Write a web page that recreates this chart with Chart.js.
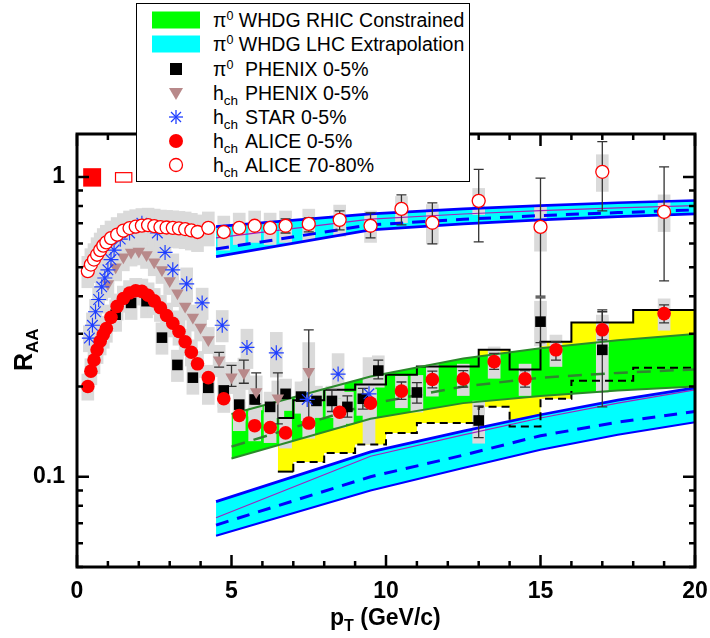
<!DOCTYPE html>
<html>
<head>
<meta charset="utf-8">
<script src="https://cdn.jsdelivr.net/npm/chart.js"></script>
<style>
  body { margin: 0; background: #fff; font-family: "Liberation Sans", Arial, sans-serif; }
  #wrap { position: relative; width: 710px; height: 638px; overflow: hidden; }
  canvas { position: absolute; left: 0; top: 0; }
  #legend { position: absolute; left: 136px; top: 3px; width: 332px; height: 177px; border: 1px solid #000; background: #fff; }
  .row { position: absolute; left: 0; width: 330px; height: 24px; }
  .row svg { position: absolute; left: 15px; top: 0; }
  .txt { position: absolute; left: 76px; top: 0; font-size: 19.5px; line-height: 24px; white-space: nowrap; color: #000; }
  .txt sup { font-size: 12.5px; vertical-align: 7px; line-height: 0; }
  .txt sub { font-size: 13.5px; vertical-align: -5px; line-height: 0; }
  .pre { display: inline-block; width: 32px; }
  #xt { position: absolute; left: 330px; top: 606px; font-weight: bold; font-size: 23px; line-height: 23px; white-space: nowrap; }
  #xt sub { font-size: 16px; vertical-align: -6px; line-height: 0; }
  #yt { position: absolute; left: 11px; top: 371px; font-weight: bold; font-size: 25px; line-height: 25px; white-space: nowrap;
        transform: rotate(-90deg); transform-origin: left top; }
  #yt sub { font-size: 17px; vertical-align: -6px; line-height: 0; }
</style>
</head>
<body>
<div id="wrap">
  <canvas id="c" width="710" height="638"></canvas>
  <div id="legend">
    <div class="row" style="top:4px"><svg width="60" height="24"><rect x="0" y="3.5" width="48" height="17" fill="#00ff00"/></svg>
      <div class="txt">π<sup>0</sup> WHDG RHIC Constrained</div></div>
    <div class="row" style="top:28px"><svg width="60" height="24"><rect x="0" y="3.5" width="48" height="17" fill="#00ffff"/></svg>
      <div class="txt">π<sup>0</sup> WHDG LHC Extrapolation</div></div>
    <div class="row" style="top:53px"><svg width="60" height="24"><rect x="18" y="6" width="12" height="12" fill="#000"/></svg>
      <div class="txt"><span class="pre">π<sup>0</sup></span>PHENIX 0-5%</div></div>
    <div class="row" style="top:77px"><svg width="60" height="24"><polygon points="17,7 31,7 24,19" fill="#b8898a"/></svg>
      <div class="txt"><span class="pre">h<sub>ch</sub></span>PHENIX 0-5%</div></div>
    <div class="row" style="top:101px"><svg width="60" height="24"><g stroke="#1f3fff" stroke-width="1.3">
      <line x1="17" y1="12" x2="31" y2="12"/><line x1="24" y1="5" x2="24" y2="19"/>
      <line x1="19" y1="7" x2="29" y2="17"/><line x1="19" y1="17" x2="29" y2="7"/></g></svg>
      <div class="txt"><span class="pre">h<sub>ch</sub></span>STAR 0-5%</div></div>
    <div class="row" style="top:125px"><svg width="60" height="24"><circle cx="24" cy="12" r="7" fill="#ff0000"/></svg>
      <div class="txt"><span class="pre">h<sub>ch</sub></span>ALICE 0-5%</div></div>
    <div class="row" style="top:149px"><svg width="60" height="24"><circle cx="24" cy="12" r="6.5" fill="#fff" stroke="#ff0000" stroke-width="1.3"/></svg>
      <div class="txt"><span class="pre">h<sub>ch</sub></span>ALICE 70-80%</div></div>
  </div>
  <div id="xt">p<sub>T</sub> (GeV/c)</div>
  <div id="yt">R<sub>AA</sub></div>
</div>
<script>
// axis ticks
const xTicksMajor = [0, 5, 10, 15, 20];
const xTicksMinor = [1, 2, 3, 4, 6, 7, 8, 9, 11, 12, 13, 14, 16, 17, 18, 19];
const yTicksMajor = [0.1, 1];
const yTicksMinor = [0.05, 0.06, 0.07, 0.08, 0.09, 0.2, 0.3, 0.4, 0.5, 0.6, 0.7, 0.8, 0.9];

// WHDG LHC extrapolation (0-5% and 70-80%)
const lhcPt = [4.5, 9.5, 12.5, 15, 17.5, 20];
const lhcCentUp = [0.0826, 0.121, 0.142, 0.161, 0.18, 0.198];
const lhcCentMid = [0.073, 0.117, 0.138, 0.157, 0.176, 0.195];
const lhcCentDash = [0.069, 0.1, 0.118, 0.137, 0.152, 0.165];
const lhcCentLo = [0.0636, 0.09, 0.107, 0.123, 0.138, 0.152];
const lhcPeriUp = [0.683, 0.753, 0.782, 0.802, 0.82, 0.834];
const lhcPeriMid = [0.626, 0.723, 0.752, 0.772, 0.788, 0.802];
const lhcPeriDash = [0.575, 0.692, 0.722, 0.743, 0.76, 0.776];
const lhcPeriLo = [0.542, 0.666, 0.697, 0.719, 0.737, 0.753];

// WHDG RHIC constrained
const rhicPt = [5, 9.5, 12.5, 15, 17.5, 20];
const rhicUp = [0.162, 0.216, 0.248, 0.268, 0.285, 0.299];
const rhicDash = [0.126, 0.175, 0.2, 0.214, 0.222, 0.228];
const rhicLo = [0.115, 0.156, 0.176, 0.186, 0.194, 0.2];

// yellow histogram band (bin edges, per-bin values)
const yellowEdges = [6.5, 7, 8, 9, 10, 11, 13, 14, 15, 16, 18, 20];
const yellowUp = [0.157, 0.18, 0.195, 0.203, 0.219, 0.233, 0.265, 0.228, 0.282, 0.327, 0.36];
const yellowLo = [0.104, 0.112, 0.12, 0.128, 0.14, 0.151, 0.171, 0.147, 0.182, 0.209, 0.231];

// PHENIX pi0 0-5%
const pi0Pt = [1.25, 1.75, 2.25, 2.75, 3.25, 3.75, 4.25, 4.75, 5.25, 5.75, 6.25, 6.75, 7.25, 7.75, 8.25, 8.75, 9.25, 9.75, 11, 13, 15, 17];
const pi0Raa = [0.347, 0.38, 0.385, 0.291, 0.236, 0.214, 0.198, 0.194, 0.174, 0.181, 0.171, 0.189, 0.185, 0.179, 0.179, 0.171, 0.182, 0.226, 0.191, 0.154, 0.329, 0.265];
const pi0Sys = [0.12, 0.12, 0.12, 0.12, 0.12, 0.12, 0.12, 0.12, 0.12, 0.12, 0.12, 0.12, 0.12, 0.12, 0.12, 0.12, 0.12, 0.12, 0.14, 0.16, 0.17, 0.28];
const pi0ErrPt = [8.25, 8.75, 9.25, 9.75, 11, 13, 15, 17];
const pi0ErrLo = [0.165, 0.158, 0.168, 0.212, 0.176, 0.135, 0.28, 0.171];
const pi0ErrHi = [0.195, 0.186, 0.197, 0.245, 0.206, 0.172, 0.395, 0.36];

// PHENIX h_ch 0-5%
const phxPt = [1.0, 1.25, 1.5, 1.75, 2.0, 2.25, 2.5, 2.75, 3.0, 3.25, 3.5, 3.75, 4.0, 4.25, 4.6, 5.0, 5.4, 5.8, 6.5, 7.5];
const phxRaa = [0.44, 0.5, 0.54, 0.56, 0.565, 0.55, 0.52, 0.49, 0.45, 0.41, 0.37, 0.34, 0.315, 0.286, 0.245, 0.215, 0.222, 0.192, 0.183, 0.224];
const phxSys = [0.1, 0.1, 0.1, 0.1, 0.1, 0.1, 0.1, 0.1, 0.1, 0.1, 0.1, 0.1, 0.1, 0.1, 0.12, 0.12, 0.12, 0.13, 0.14, 0.25];
const phxErrPt = [4.6, 5.0, 5.4, 5.8, 6.5, 7.5];
const phxErrLo = [0.232, 0.2, 0.205, 0.175, 0.15, 0.147];
const phxErrHi = [0.26, 0.235, 0.245, 0.222, 0.222, 0.309];

// STAR h_ch 0-5%
const starPt = [0.4, 0.5, 0.6, 0.7, 0.8, 0.9, 1.0, 1.1, 1.2, 1.4, 1.7, 2.1, 2.6, 2.85, 3.1, 3.55, 4.05, 4.7, 5.5, 6.45, 7.45, 8.45, 9.45];
const starRaa = [0.29, 0.32, 0.355, 0.39, 0.43, 0.46, 0.49, 0.53, 0.57, 0.62, 0.65, 0.7, 0.65, 0.56, 0.49, 0.44, 0.38, 0.32, 0.27, 0.259, 0.181, 0.22, 0.189];
const starSys = [0.1, 0.1, 0.1, 0.1, 0.1, 0.1, 0.1, 0.1, 0.1, 0.1, 0.1, 0.1, 0.12, 0.12, 0.13, 0.13, 0.12, 0.12, 0.15, 0.17, 0.15, 0.17, 0.32];

// ALICE h_ch 0-5%
const aliCentPt = [0.35, 0.45, 0.55, 0.65, 0.75, 0.85, 0.95, 1.1, 1.3, 1.5, 1.7, 1.9, 2.1, 2.3, 2.5, 2.7, 2.9, 3.1, 3.3, 3.5, 3.7, 3.9, 4.25, 4.75,
                   5.25, 5.75, 6.25, 6.75, 7.5, 8.5, 9.5, 10.5, 11.5, 12.5, 13.5, 14.5, 15.5, 17, 19];
const aliCentRaa = [0.2, 0.225, 0.245, 0.265, 0.283, 0.298, 0.312, 0.34, 0.37, 0.393, 0.41, 0.417, 0.415, 0.403, 0.386, 0.366, 0.345, 0.325, 0.305, 0.282, 0.26, 0.238, 0.214, 0.182,
                    0.16, 0.148, 0.146, 0.14, 0.151, 0.164, 0.176, 0.193, 0.211, 0.212, 0.242, 0.212, 0.265, 0.309, 0.35];
const aliCentSys = [0.1, 0.1, 0.1, 0.1, 0.1, 0.1, 0.1, 0.1, 0.1, 0.1, 0.1, 0.1, 0.1, 0.1, 0.1, 0.1, 0.1, 0.1, 0.1, 0.1, 0.1, 0.1, 0.1, 0.1,
                    0.11, 0.11, 0.11, 0.11, 0.11, 0.11, 0.11, 0.12, 0.12, 0.12, 0.12, 0.12, 0.12, 0.12, 0.12];
const aliCentErrPt = [10.5, 11.5, 12.5, 13.5, 14.5, 15.5, 17, 19];
const aliCentErrLo = [0.181, 0.198, 0.199, 0.228, 0.199, 0.245, 0.286, 0.326];
const aliCentErrHi = [0.207, 0.225, 0.226, 0.258, 0.226, 0.282, 0.355, 0.374];

// ALICE h_ch 70-80%
const aliPeriPt = [0.35, 0.45, 0.55, 0.65, 0.75, 0.85, 0.95, 1.1, 1.3, 1.5, 1.7, 1.9, 2.1, 2.3, 2.5, 2.7, 2.9, 3.1, 3.3, 3.5, 3.7, 3.9, 4.25, 4.75,
                   5.25, 5.75, 6.25, 6.75, 7.5, 8.5, 9.5, 10.5, 11.5, 13, 15, 17, 19];
const aliPeriRaa = [0.485, 0.51, 0.53, 0.55, 0.57, 0.59, 0.605, 0.625, 0.642, 0.662, 0.675, 0.682, 0.688, 0.69, 0.685, 0.68, 0.678, 0.676, 0.673, 0.67, 0.663, 0.655, 0.676, 0.655,
                    0.676, 0.687, 0.676, 0.687, 0.697, 0.719, 0.687, 0.782, 0.703, 0.832, 0.681, 1.04, 0.764];
const aliPeriSys = [0.12, 0.13, 0.13, 0.14, 0.14, 0.14, 0.14, 0.14, 0.14, 0.14, 0.14, 0.14, 0.14, 0.14, 0.14, 0.14, 0.14, 0.14, 0.14, 0.14, 0.14, 0.14, 0.13, 0.13,
                    0.12, 0.12, 0.12, 0.12, 0.12, 0.12, 0.12, 0.1, 0.15, 0.1, 0.17, 0.14, 0.14];
const aliPeriErrPt = [6.75, 7.5, 8.5, 9.5, 10.5, 11.5, 13, 15, 17, 19];
const aliPeriErrLo = [0.65, 0.656, 0.666, 0.626, 0.692, 0.598, 0.607, 0.4, 0.77, 0.45];
const aliPeriErrHi = [0.724, 0.73, 0.77, 0.758, 0.871, 0.819, 1.06, 0.99, 1.31, 1.08];

// normalisation boxes at R_AA = 1: [pt0, pt1, lo, hi]
const normAlice = [0.2, 0.78, 0.928, 1.069];
const normAliPeri = [1.23, 1.79, 0.957, 1.037];

const pts = (xs, ys) => xs.map((x, i) => ({ x, y: ys[i] }));
// histogram outline: two points per bin
const steps = (edges, vals) => vals.flatMap((v, i) => [{ x: edges[i], y: v }, { x: edges[i + 1], y: v }]);
const NONE = 'rgba(0,0,0,0)';

function bandEdge(data, order, extra) {
  return Object.assign({ type: 'line', data, borderColor: NONE, borderWidth: 0, pointRadius: 0, fill: false, tension: 0, order }, extra);
}
function curve(data, color, width, dash, extra) {
  return Object.assign({ type: 'line', data, borderColor: color, borderWidth: width, borderDash: dash || [], pointRadius: 0, fill: false, tension: 0, order: 40 }, extra);
}
function markers(label, xs, ys, order, style) {
  return Object.assign({ type: 'line', label, data: pts(xs, ys), showLine: false, order, pointHoverRadius: 0 }, style);
}

const sysBoxes = [];
[[pi0Pt, pi0Raa, pi0Sys], [phxPt, phxRaa, phxSys], [starPt, starRaa, starSys],
 [aliCentPt, aliCentRaa, aliCentSys], [aliPeriPt, aliPeriRaa, aliPeriSys]].forEach(([xs, ys, ss]) => {
  xs.forEach((x, i) => sysBoxes.push({ x, y: [ys[i] * (1 - ss[i]), ys[i] * (1 + ss[i])] }));
});

const errSets = [
  [pi0ErrPt, pi0ErrLo, pi0ErrHi], [phxErrPt, phxErrLo, phxErrHi],
  [aliCentErrPt, aliCentErrLo, aliCentErrHi], [aliPeriErrPt, aliPeriErrLo, aliPeriErrHi]
];

const datasets = [
  bandEdge(steps(yellowEdges, yellowLo), 100),
  bandEdge(steps(yellowEdges, yellowUp), 99, { fill: '-1', backgroundColor: '#ffff00' }),
  bandEdge(pts(lhcPt, lhcCentLo), 98),
  bandEdge(pts(lhcPt, lhcCentUp), 97, { fill: '-1', backgroundColor: '#00ffff' }),
  bandEdge(pts(lhcPt, lhcPeriLo), 96),
  bandEdge(pts(lhcPt, lhcPeriUp), 95, { fill: '-1', backgroundColor: '#00ffff' }),
  bandEdge(pts(rhicPt, rhicLo), 94),
  bandEdge(pts(rhicPt, rhicUp), 93, { fill: '-1', backgroundColor: '#00ff00' }),
  { type: 'bar', label: 'sys', data: sysBoxes, backgroundColor: '#dadada', borderWidth: 0, barThickness: 12, order: 50 },
  curve(pts(rhicPt, rhicUp), '#2a8a2a', 2),
  curve(pts(rhicPt, rhicLo), '#2a8a2a', 2),
  curve(pts(rhicPt, rhicDash), '#2f862f', 2.5, [14, 9]),
  curve(steps(yellowEdges, yellowUp), '#000', 2),
  curve(steps(yellowEdges, yellowLo), '#000', 2, [8, 5], {
    segment: { borderDash: (c) => (c.p0DataIndex < 1 ? [] : undefined) }
  }),
  curve(pts(lhcPt, lhcCentUp), '#0000ff', 2.7),
  curve(pts(lhcPt, lhcCentLo), '#0000ff', 2),
  curve(pts(lhcPt, lhcCentDash), '#0000ff', 3, [13, 9]),
  curve(pts(lhcPt, lhcCentMid), '#a020c0', 1.2),
  curve(pts(lhcPt, lhcPeriUp), '#0000ff', 2.7),
  curve(pts(lhcPt, lhcPeriLo), '#0000ff', 2.7),
  curve(pts(lhcPt, lhcPeriDash), '#0000ff', 3, [13, 9]),
  curve(pts(lhcPt, lhcPeriMid), '#a020c0', 1.2),
  markers('pi0', pi0Pt, pi0Raa, 5, { pointStyle: 'rect', pointRadius: 7.5, pointBackgroundColor: '#000', pointBorderColor: '#000', pointBorderWidth: 0 }),
  markers('phx', phxPt, phxRaa, 4, { pointStyle: 'triangle', pointRotation: 180, pointRadius: 7.2, pointBackgroundColor: '#b8898a', pointBorderColor: '#b8898a', pointBorderWidth: 0 }),
  markers('star', starPt, starRaa, 3, { pointStyle: 'star', pointRadius: 7.5, pointBackgroundColor: '#1f3fff', pointBorderColor: '#1f3fff', pointBorderWidth: 1.2 }),
  markers('aliPeri', aliPeriPt, aliPeriRaa, 2, { pointStyle: 'circle', pointRadius: 6.5, pointBackgroundColor: '#fff', pointBorderColor: '#ff0000', pointBorderWidth: 1.3 }),
  markers('aliCent', aliCentPt, aliCentRaa, 1, { pointStyle: 'circle', pointRadius: 6.8, pointBackgroundColor: '#ff0000', pointBorderColor: '#ff0000', pointBorderWidth: 0 })
];

const decor = {
  id: 'decor',
  beforeDatasetDraw(chart, args) {
    if (chart.data.datasets[args.index].label !== 'pi0') return;
    const { ctx, scales: { x, y } } = chart;
    ctx.save();
    ctx.strokeStyle = '#333';
    ctx.lineWidth = 1.3;
    errSets.forEach(([xs, lo, hi]) => {
      xs.forEach((v, i) => {
        const px = x.getPixelForValue(v), p0 = y.getPixelForValue(lo[i]), p1 = y.getPixelForValue(hi[i]);
        ctx.beginPath();
        ctx.moveTo(px, p0); ctx.lineTo(px, p1);
        ctx.moveTo(px - 5, p0); ctx.lineTo(px + 5, p0);
        ctx.moveTo(px - 5, p1); ctx.lineTo(px + 5, p1);
        ctx.stroke();
      });
    });
    ctx.restore();
  },
  afterDatasetsDraw(chart) {
    const { ctx, scales: { x, y } } = chart;
    const box = (b) => {
      const x0 = x.getPixelForValue(b[0]), x1 = x.getPixelForValue(b[1]);
      const y0 = y.getPixelForValue(b[3]), y1 = y.getPixelForValue(b[2]);
      return [x0, y0, x1 - x0, y1 - y0];
    };
    ctx.save();
    ctx.fillStyle = '#ff0000';
    ctx.fillRect(...box(normAlice));
    ctx.strokeStyle = '#ff0000';
    ctx.lineWidth = 1.2;
    const r = box(normAliPeri);
    ctx.strokeRect(r[0] + 0.5, r[1] + 0.5, r[2] - 1, r[3] - 1);
    ctx.restore();
  },
  afterDraw(chart) {
    const { ctx, chartArea: a, scales: { x, y } } = chart;
    ctx.save();
    ctx.strokeStyle = '#000';
    ctx.lineWidth = 2.5;
    ctx.beginPath();
    xTicksMajor.concat(xTicksMinor).forEach((v) => {
      const len = xTicksMajor.includes(v) ? 12 : 6;
      const px = x.getPixelForValue(v);
      ctx.moveTo(px, a.bottom); ctx.lineTo(px, a.bottom - len);
      ctx.moveTo(px, a.top); ctx.lineTo(px, a.top + len);
    });
    yTicksMajor.concat(yTicksMinor).forEach((v) => {
      const len = yTicksMajor.includes(v) ? 12 : 6;
      const py = y.getPixelForValue(v);
      ctx.moveTo(a.left, py); ctx.lineTo(a.left + len, py);
      ctx.moveTo(a.right, py); ctx.lineTo(a.right - len, py);
    });
    ctx.stroke();
    ctx.lineWidth = 3;
    ctx.strokeRect(a.left, a.top, a.right - a.left, a.bottom - a.top);
    ctx.restore();
  }
};

Chart.defaults.font.family = '"Liberation Sans", Arial, sans-serif';

new Chart(document.getElementById('c'), {
  type: 'line',
  data: { datasets },
  plugins: [decor],
  options: {
    responsive: false,
    devicePixelRatio: 1,
    animation: false,
    events: [],
    layout: { padding: { top: 134, right: 15, left: 0, bottom: 0 } },
    plugins: { legend: { display: false }, tooltip: { enabled: false } },
    scales: {
      x: {
        type: 'linear', min: 0, max: 20, offset: false,
        grid: { display: false, drawTicks: false }, border: { display: false },
        ticks: { stepSize: 5, padding: 11, maxRotation: 0, autoSkip: false, color: '#000', font: { size: 23, weight: 'bold' } },
        afterFit: (s) => { s.height = 71; s.paddingLeft = 0; s.paddingRight = 0; }
      },
      y: {
        type: 'logarithmic', min: 0.05, max: 1.39,
        grid: { display: false, drawTicks: false }, border: { display: false },
        afterBuildTicks: (s) => { s.ticks = yTicksMajor.map((v) => ({ value: v })); },
        ticks: { padding: 12, color: '#000', font: { size: 23, weight: 'bold' }, callback: (v) => String(v) },
        afterFit: (s) => { s.width = 77; s.paddingTop = 0; s.paddingBottom = 0; }
      }
    }
  }
});
</script>
</body>
</html>
